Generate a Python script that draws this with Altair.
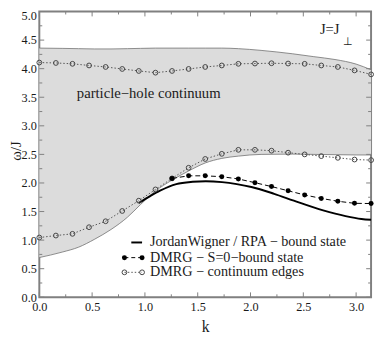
import altair as alt
import pandas as pd

PI = 3.14159265

# continuum boundaries (shaded region)
k_edge = [0.0, 0.216, 0.371, 0.525, 0.679, 0.834, 0.957, 1.10, 1.257, 1.414, 1.571,
          1.728, 1.885, 2.1, 2.4, 2.6, 2.8, 3.0, PI]
lower_edge = [0.695, 0.79, 0.876, 1.017, 1.186, 1.40, 1.62, 1.86, 2.05, 2.21, 2.35,
              2.43, 2.47, 2.50, 2.505, 2.50, 2.495, 2.49, 2.49]
upper_edge = [4.36, 4.355, 4.35, 4.345, 4.345, 4.35, 4.355, 4.36, 4.36, 4.36, 4.36,
              4.36, 4.35, 4.32, 4.26, 4.21, 4.16, 4.08, 3.98]

# JordanWigner / RPA bound state
k_jw = [0.942, 1.05, 1.143, 1.297, 1.452, 1.576, 1.73, 1.87, 2.008, 2.224, 2.41,
        2.688, 2.90, 3.05, PI]
w_jw = [1.65, 1.77, 1.864, 1.98, 2.02, 2.03, 2.015, 1.98, 1.93, 1.81, 1.69,
        1.52, 1.42, 1.37, 1.356]

# DMRG momenta
k_dmrg = [0.0, 0.157, 0.314, 0.471, 0.628, 0.785, 0.942, 1.100, 1.257, 1.414, 1.571,
          1.728, 1.885, 2.042, 2.199, 2.356, 2.513, 2.670, 2.827, 2.985, 3.142]
w_cont_low = [1.045, 1.08, 1.11, 1.226, 1.33, 1.51, 1.69, 1.887, 2.08, 2.266, 2.42,
              2.51, 2.58, 2.58, 2.565, 2.53, 2.50, 2.47, 2.44, 2.41, 2.40]
w_cont_up = [4.107, 4.10, 4.085, 4.056, 4.03, 3.995, 3.96, 3.93, 3.96, 3.995, 4.03,
             4.056, 4.085, 4.09, 4.095, 4.09, 4.085, 4.056, 4.03, 3.97, 3.90]

k_bound = [1.257, 1.414, 1.571, 1.728, 1.885, 2.042, 2.199, 2.356, 2.513, 2.670,
           2.827, 2.985, 3.142]
w_bound = [2.08, 2.125, 2.125, 2.11, 2.07, 2.005, 1.937, 1.864, 1.79, 1.73,
           1.68, 1.644, 1.64]

x_ticks_major = [0.0, 0.5, 1.0, 1.5, 2.0, 2.5, 3.0]
x_ticks_minor = [0.25, 0.75, 1.25, 1.75, 2.25, 2.75]
y_ticks_major = [0.0, 0.5, 1.0, 1.5, 2.0, 2.5, 3.0, 3.5, 4.0, 4.5, 5.0]
y_ticks_minor = [0.25, 0.75, 1.25, 1.75, 2.25, 2.75, 3.25, 3.75, 4.25, 4.75]

legend_labels = ["JordanWigner / RPA \u2212 bound state",
                 "DMRG \u2212 S=0\u2212bound state",
                 "DMRG \u2212 continuum edges"]

W, H = 339, 292
FONT = "Liberation Serif"
AX = "#808080"
TXT = "#1a1a1a"

xs = alt.Scale(domain=[0, PI], nice=False, zero=False)
ys = alt.Scale(domain=[0, 5], nice=False, zero=False)

x_axis = alt.Axis(title="k", values=x_ticks_major, format=".1f", ticks=False, domain=False,
                  grid=False, labelFont=FONT, labelFontSize=12.5, labelColor=TXT,
                  labelPadding=4, labelFlush=False, labelOverlap=False,
                  titleFont=FONT, titleFontSize=16, titleFontWeight="normal",
                  titleColor=TXT, titleY=35, titleBaseline="alphabetic")
y_axis = alt.Axis(title="\u03c9/J", values=y_ticks_major, format=".1f", ticks=False,
                  domain=False, grid=False, labelFont=FONT, labelFontSize=12.5,
                  labelColor=TXT, labelPadding=3, labelFlush=False, labelOverlap=False,
                  labelOffset={"condition": {"test": "datum.value == 5", "value": 4},
                               "value": 0},
                  titleFont=FONT, titleFontSize=15, titleFontWeight="normal",
                  titleColor=TXT, titleX=-31, titleY=142, titleBaseline="top",
                  titleAlign="center")


def X(f):
    return alt.X(f, type="quantitative", scale=xs, axis=x_axis)


def Y(f):
    return alt.Y(f, type="quantitative", scale=ys, axis=y_axis)


df_edge = pd.DataFrame({"k": k_edge, "lo": lower_edge, "hi": upper_edge})
df_jw = pd.DataFrame({"k": k_jw, "w": w_jw})
df_cont = pd.DataFrame({"k": k_dmrg, "lo": w_cont_low, "hi": w_cont_up})
df_bound = pd.DataFrame({"k": k_bound, "w": w_bound})

area = alt.Chart(df_edge).mark_area(color="#dcdcdc", interpolate="monotone").encode(
    x=X("k"), y=Y("lo"), y2="hi")
edge_lo = alt.Chart(df_edge).mark_line(color="#707070", strokeWidth=0.8,
                                        interpolate="monotone").encode(x=X("k"), y=Y("lo"))
edge_hi = alt.Chart(df_edge).mark_line(color="#707070", strokeWidth=0.8,
                                        interpolate="monotone").encode(x=X("k"), y=Y("hi"))

jw = alt.Chart(df_jw).mark_line(color="black", strokeWidth=2,
                                interpolate="monotone").encode(x=X("k"), y=Y("w"))

bound_line = alt.Chart(df_bound).mark_line(color="black", strokeWidth=1,
                                           strokeDash=[5, 3]).encode(x=X("k"), y=Y("w"))
bound_pts = alt.Chart(df_bound).mark_point(shape="circle", filled=True, size=26,
                                           color="black", opacity=1).encode(x=X("k"), y=Y("w"))

cont_line_lo = alt.Chart(df_cont).mark_line(color="#555555", strokeWidth=1,
                                            strokeDash=[1.5, 2]).encode(x=X("k"), y=Y("lo"))
cont_line_hi = alt.Chart(df_cont).mark_line(color="#555555", strokeWidth=1,
                                            strokeDash=[1.5, 2]).encode(x=X("k"), y=Y("hi"))
cont_pts_lo = alt.Chart(df_cont).mark_point(shape="circle", filled=False, size=24,
                                            stroke="#444444", strokeWidth=1,
                                            opacity=1).encode(x=X("k"), y=Y("lo"))
cont_pts_hi = alt.Chart(df_cont).mark_point(shape="circle", filled=False, size=24,
                                            stroke="#444444", strokeWidth=1,
                                            opacity=1).encode(x=X("k"), y=Y("hi"))

# inward ticks on all four sides
df_xM = pd.DataFrame({"t": x_ticks_major})
df_xm = pd.DataFrame({"t": x_ticks_minor})
df_yM = pd.DataFrame({"t": y_ticks_major})
df_ym = pd.DataFrame({"t": y_ticks_minor})


def xtick(df, y0, y1):
    return alt.Chart(df).mark_rule(color=AX, strokeWidth=1).encode(
        x=X("t"), y=alt.value(y0), y2=alt.value(y1))


def ytick(df, x0, x1):
    return alt.Chart(df).mark_rule(color=AX, strokeWidth=1).encode(
        y=Y("t"), x=alt.value(x0), x2=alt.value(x1))


ticks = [
    xtick(df_xM, H, H - 5), xtick(df_xm, H, H - 3),
    xtick(df_xM, 0, 5), xtick(df_xm, 0, 3),
    ytick(df_yM, 0, 5), ytick(df_ym, 0, 3),
    ytick(df_yM, W, W - 5), ytick(df_ym, W, W - 3),
]

# annotations
df_ph = pd.DataFrame({"k": [0.355], "w": [3.58], "t": ["particle\u2212hole continuum"]})
ph_text = alt.Chart(df_ph).mark_text(align="left", baseline="middle", font=FONT,
                                     fontSize=15, color=TXT).encode(x=X("k"), y=Y("w"), text="t")
df_jj = pd.DataFrame({"k": [2.657], "w": [4.605], "t": ["J=J"]})
jj_text = alt.Chart(df_jj).mark_text(align="left", baseline="alphabetic", font=FONT,
                                     fontSize=15, color=TXT).encode(x=X("k"), y=Y("w"), text="t")
df_perp = pd.DataFrame({"k": [2.875], "w": [4.415], "t": ["\u22a5"]})
perp_text = alt.Chart(df_perp).mark_text(align="left", baseline="alphabetic", font=FONT,
                                         fontSize=11, color=TXT).encode(x=X("k"), y=Y("w"), text="t")

# hand-made legend (inside plot, lower right)
one = pd.DataFrame({"a": [0]})
LX0, LX1, LXT = 87, 105, 113
rows = [236, 251.5, 266.5]
legend = []
legend.append(alt.Chart(one).mark_rule(color="black", strokeWidth=2).encode(
    x=alt.value(94), x2=alt.value(LX1), y=alt.value(rows[0])))
legend.append(alt.Chart(one).mark_rule(color="black", strokeWidth=1, strokeDash=[4, 3]).encode(
    x=alt.value(LX0), x2=alt.value(LX1), y=alt.value(rows[1])))
legend.append(alt.Chart(one).mark_rule(color="#555555", strokeWidth=1, strokeDash=[1.5, 2]).encode(
    x=alt.value(LX0), x2=alt.value(LX1), y=alt.value(rows[2])))
for xx in (LX0, LX1):
    legend.append(alt.Chart(one).mark_point(shape="circle", filled=True, size=26, color="black",
                                            opacity=1).encode(x=alt.value(xx), y=alt.value(rows[1])))
    legend.append(alt.Chart(one).mark_point(shape="circle", filled=False, size=24, stroke="#444444",
                                            strokeWidth=1, opacity=1).encode(
        x=alt.value(xx), y=alt.value(rows[2])))
for i, lab in enumerate(legend_labels):
    legend.append(alt.Chart(pd.DataFrame({"t": [lab]})).mark_text(
        align="left", baseline="middle", font=FONT, fontSize=14.5, color=TXT).encode(
        x=alt.value(LXT), y=alt.value(rows[i]), text="t:N"))

chart = alt.layer(
    area, edge_lo, edge_hi, jw, bound_line, cont_line_lo, cont_line_hi,
    cont_pts_lo, cont_pts_hi, bound_pts, *ticks, ph_text, jj_text, perp_text, *legend
).properties(
    width=W, height=H,
    autosize=alt.AutoSizeParams(type="none"),
    padding={"left": 32, "top": 0, "right": 3, "bottom": 37},
).configure_view(stroke=AX, strokeWidth=2)

chart.save("out.html", embed_options={"renderer": "svg", "actions": False})
